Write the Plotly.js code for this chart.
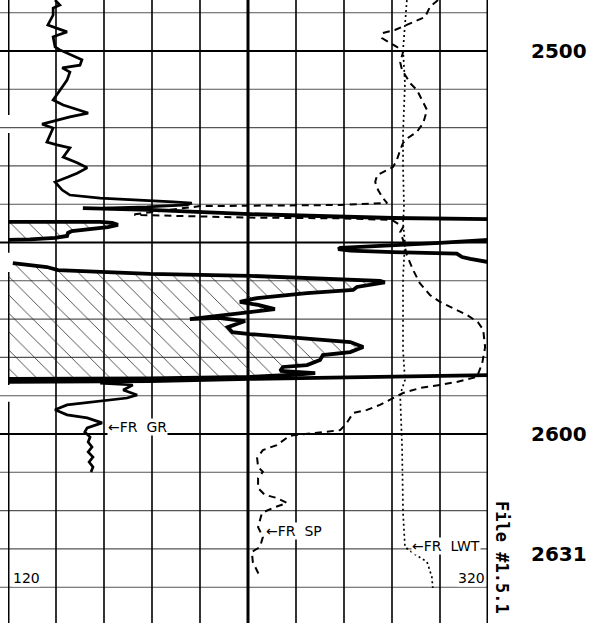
<!DOCTYPE html>
<html><head><meta charset="utf-8">
<script src="https://cdn.plot.ly/plotly-3.0.1.min.js"></script>
<style>html,body{margin:0;padding:0;background:#fff}#chart{width:597px;height:623px}</style>
</head><body><div id="chart"></div>
<script>
// x values are in chart divisions (0..10 across both tracks), depth in ft
const grUpperDepth = [2486.7,2488.0,2488.8,2490.6,2493.2,2494.0,2495.0,2496.3,2498.9,2499.7,2502.3,2503.7,2504.4,2505.5,2507.6,2509.4,2512.8,2514.1,2516.2,2517.2,2519.1,2520.1,2523.8,2524.5,2525.3,2527.7,2529.2,2530.5,2531.9,2532.9,2534.2,2536.3,2537.6,2538.4,2538.9,2539.4,2539.7,2540.2,2540.7,2541.0];
const grUpperValue = [0.98,1.08,0.94,0.94,0.83,1.02,1.23,0.94,0.98,1.08,1.54,1.50,1.13,1.29,1.23,1.13,0.94,1.15,1.67,1.29,0.71,0.94,0.81,1.02,1.29,1.15,1.44,1.65,1.44,1.25,0.98,1.13,1.29,1.92,2.81,3.44,3.83,3.73,2.90,1.98];
const grLowerDepth = [2586.7,2587.2,2588.5,2589.8,2590.6,2591.4,2592.4,2593.7,2595.0,2595.8,2597.1,2598.4,2599.5,2600.8,2602.1,2603.4,2604.7,2606.0,2607.3,2608.6,2609.9];
const grLowerValue = [1.92,2.60,2.40,2.69,2.48,1.92,1.23,0.98,1.23,1.65,1.96,1.65,1.60,1.71,1.67,1.75,1.67,1.77,1.69,1.77,1.73];

const thickADepth = [2541.0,2541.1,2541.5,2542.6,2543.3,2543.6,2543.9,2544.0];
const thickAValue = [1.56,1.98,2.96,5.04,6.92,8.02,10.0,10.67];
const thickBDepth = [2544.6,2544.6,2544.9,2545.4,2546.0,2546.2,2547.0,2547.5,2548.3,2548.8,2549.2,2549.3];
const thickBValue = [0,1.92,2.17,2.29,2.08,1.92,1.33,1.25,1.23,0.98,0.46,0];
const thickCDepth = [2549.2,2549.3,2550.1,2550.7,2551.2,2551.4,2551.7,2552.1,2552.5,2552.9,2553.8,2554.3,2555.1,2555.2];
const thickCValue = [10.67,10,9.0,8.02,7.6,6.92,6.88,7.13,8.02,9.35,9.46,9.63,10,10.67];
const thickDDepth = [2555.4,2556.4,2557.2,2557.7,2558.2,2558.7,2559.3,2559.8,2560.0,2560.4,2561.1,2561.6,2562.4,2563.2,2564.5,2565.5,2566.3,2567.4,2567.9,2568.4,2569.2,2570.0,2569.7,2570.5,2572.1,2573.4,2573.9,2575.0,2576.0,2577.3,2578.6,2579.4,2580.7,2582.0,2582.5,2583.5,2584.1,2584.6,2585.1,2585.5,2585.6];
const thickDValue = [0.10,0.81,1.04,1.92,2.96,5.04,6.23,7.27,7.75,7.85,7.48,7.27,7.19,6.23,5.19,4.83,5.21,5.56,5.21,4.88,4.31,3.79,4.38,4.94,4.58,4.67,5.04,6.23,7.13,7.40,7.13,6.56,6.5,6.23,5.73,5.67,6.40,5.88,5.04,2.96,0];
const thickEDepth = [2584.5,2584.6,2584.9,2585.1,2585.6,2586.2,2586.4,2586.4];
const thickEValue = [10.67,10,8.17,6.92,5.04,2.96,1.08,0];

const spDepth = [2486.7,2488.5,2491.1,2492.4,2493.7,2494.5,2495.3,2496.6,2497.6,2498.9,2500.3,2502.9,2505.0,2508.4,2510.2,2512.8,2515.4,2518.8,2521.1,2522.7,2524.0,2525.9,2528.5,2530.3,2531.1,2532.4,2534.2,2536.3,2538.4,2539.7,2540.2,2540.5,2540.5,2542.6,2542.8,2543.5,2543.7,2544.1,2546.0,2547.3,2549.3,2553.3,2557.2,2560.6,2563.7,2565.5,2567.1,2568.9,2570.8,2572.8,2577.3,2581.5,2585.1,2586.4,2587.2,2588.0,2589.3,2591.1,2592.4,2593.7,2594.5,2597.1,2599.0,2599.5,2600.0,2600.3,2601.0,2602.9,2604.2,2606.3,2608.6,2609.9,2611.5,2614.1,2615.9,2616.7,2618.0,2619.3,2620.6,2624.3,2626.9,2629.5,2630.8,2633.4,2637.3];
const spValue = [8.96,8.79,8.69,8.44,8.23,8.06,7.81,7.79,7.92,8.10,8.23,8.17,8.21,8.38,8.52,8.63,8.73,8.65,8.52,8.33,8.23,8.17,8.10,8.02,7.90,7.69,7.65,7.71,7.81,7.90,6.92,4.83,4.0,2.65,2.65,5.04,6.92,8.0,8.23,8.17,8.23,8.31,8.44,8.58,8.79,9.0,9.27,9.56,9.79,9.90,9.94,9.88,9.77,9.35,9.0,8.58,8.23,7.96,7.75,7.48,7.19,7.06,6.92,6.56,6.23,5.94,5.81,5.60,5.31,5.19,5.21,5.31,5.21,5.21,5.35,5.60,5.81,5.52,5.29,5.21,5.31,5.25,5.08,5.10,5.25];

const lwtDepth = [2486.7,2493.7,2499.7,2508.4,2521.4,2530.3,2540.7,2544.9,2550.1,2559.0,2578.1,2585.9,2589.8,2603.4,2620.6,2629.5,2631.1,2633.4,2637.3,2640.2];
const lwtValue = [8.31,8.27,8.23,8.27,8.23,8.23,8.25,8.23,8.27,8.23,8.23,8.27,8.17,8.21,8.23,8.27,8.44,8.73,8.83,8.85];

const gridDepths = [2490,2500,2510,2520,2530,2540,2550,2560,2570,2580,2590,2600,2610,2620,2630,2640];
const majorDepths = [2500,2550,2600];
const gridDivisions = [1,2,3,4,5,6,7,8,9,10];
const depthLabels = ['2500','2600','2631'];
const depthLabelDepths = [2500,2600,2631.3];

const DTOP = 2486.68, DBOT = 2649.35;

function joinSegs(list){ const out=[]; list.forEach((s,i)=>{ if(i) out.push(null); out.push(...s);}); return out; }

const traces = [];
// hatch fills
[[thickBDepth,thickBValue],[thickDDepth,thickDValue]].forEach(([d,v])=>{
  traces.push({type:'scatter', mode:'lines', x:[0,...v,0], y:[d[0],...d,d[d.length-1]],
    fill:'toself', fillcolor:'rgba(0,0,0,0)', line:{width:0},
    fillpattern:{shape:'\\', size:13, solidity:0.06, fgcolor:'#222', bgcolor:'rgba(0,0,0,0)'},
    hoverinfo:'skip', showlegend:false});
});
traces.push({type:'scatter', mode:'lines', x:lwtValue, y:lwtDepth,
  line:{color:'#000', width:1.7, dash:'2px,3px'}, showlegend:false});
traces.push({type:'scatter', mode:'lines', x:spValue, y:spDepth,
  line:{color:'#000', width:2, dash:'7px,5px'}, showlegend:false});
traces.push({type:'scatter', mode:'lines', x:joinSegs([grUpperValue,grLowerValue]), y:joinSegs([grUpperDepth,grLowerDepth]),
  line:{color:'#000', width:2.7}, connectgaps:false, showlegend:false});
traces.push({type:'scatter', mode:'lines',
  x:joinSegs([thickAValue,thickBValue,thickCValue,thickDValue,thickEValue]),
  y:joinSegs([thickADepth,thickBDepth,thickCDepth,thickDDepth,thickEDepth]),
  line:{color:'#000', width:3.8}, connectgaps:false, showlegend:false});

const shapes = [];
gridDepths.forEach(d=>{
  const major = majorDepths.includes(d);
  shapes.push({type:'line', layer:'below', xref:'paper', yref:'y', x0:-8/480, x1:1, y0:d, y1:d,
    line:{color: major?'#000':'#555', width: major?2:1.1}});
});
gridDivisions.forEach(g=>{
  const major = (g%5===0);
  shapes.push({type:'line', layer:'below', xref:'x', yref:'paper', x0:g, x1:g, y0:0, y1:1,
    line:{color:'#000', width: major?3:1.6}});
});
// left border with breaks
[[DTOP,2516.7],[2521.4,2552.7],[2557.7,2587.2],[2591.6,DBOT]].forEach(([a,b])=>{
  shapes.push({type:'line', layer:'below', xref:'x', yref:'y', x0:0, x1:0, y0:a, y1:b, line:{color:'#000', width:3}});
});

const lblFont = {family:'DejaVu Sans', size:14, color:'#000'};
const annotations = [
  {text:'\u2190FR\u00a0 GR', x:2.06, y:2598.3, xanchor:'left', yanchor:'middle'},
  {text:'\u2190FR\u00a0 SP', x:5.36, y:2625.3, xanchor:'left', yanchor:'middle'},
  {text:'\u2190FR\u00a0 LWT', x:8.4, y:2629.2, xanchor:'left', yanchor:'middle'},
  {text:'120', x:0.08, y:2637.6, xanchor:'left', yanchor:'middle'},
  {text:'320', x:9.96, y:2637.6, xanchor:'right', yanchor:'middle'}
].map(a=>Object.assign({xref:'x', yref:'y', showarrow:false, font:lblFont, bgcolor:'#fff', borderpad:0}, a));
depthLabels.forEach((t,i)=>annotations.push({text:t, xref:'paper', yref:'y', x:(559-8)/480, y:depthLabelDepths[i],
  showarrow:false, xanchor:'center', yanchor:'middle', font:{family:'DejaVu Sans', size:20, color:'#000', weight:'bold'}}));
annotations.push({text:'File #1.5.1', xref:'paper', yref:'y', x:(502-8)/480, y:2632.4, textangle:90, showarrow:false,
  xanchor:'center', yanchor:'middle', font:{family:'DejaVu Sans Mono', size:17, color:'#000', weight:'bold'}});

const layout = {
  width:597, height:623, margin:{l:8, r:109, t:0, b:0},
  paper_bgcolor:'#fff', plot_bgcolor:'#fff', showlegend:false,
  xaxis:{range:[0,10], showgrid:false, zeroline:false, showticklabels:false, ticks:'', showline:false, fixedrange:true},
  yaxis:{range:[DBOT,DTOP], showgrid:false, zeroline:false, showticklabels:false, ticks:'', showline:false, fixedrange:true},
  shapes, annotations
};
Plotly.newPlot('chart', traces, layout, {staticPlot:true, displayModeBar:false});
</script></body></html>
